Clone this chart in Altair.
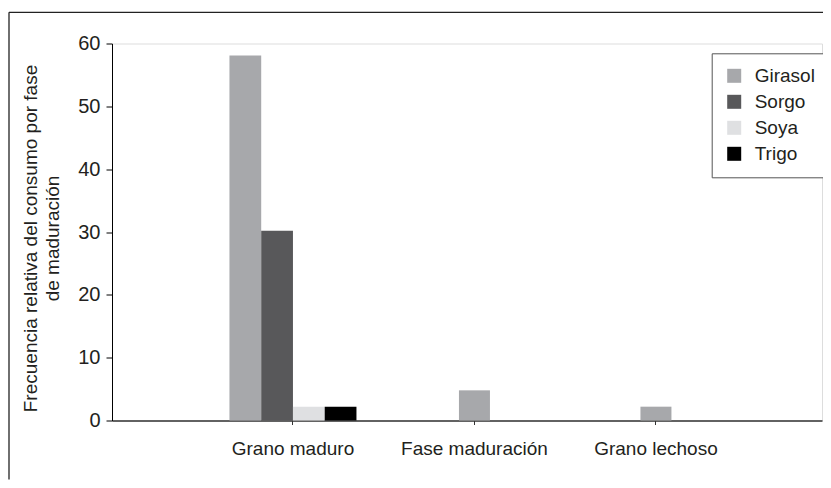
import altair as alt
import pandas as pd

categories = ["Grano maduro", "Fase maduración", "Grano lechoso"]
series = ["Girasol", "Sorgo", "Soya", "Trigo"]
girasol = [58.1, 4.8, 2.2]
sorgo = [30.2, 0.0, 0.0]
soya = [2.2, 0.0, 0.0]
trigo = [2.2, 0.0, 0.0]
colors = ["#a7a8ab", "#58585a", "#dfe0e2", "#000000"]
y_ticks = [0, 10, 20, 30, 40, 50, 60]

rows = []
for s, vals in zip(series, [girasol, sorgo, soya, trigo]):
    for c, v in zip(categories, vals):
        rows.append({"fase": c, "cultivo": s, "valor": v})
df = pd.DataFrame(rows)

FONT = "Liberation Sans"
W, H = 710, 377
PL, PT, PR, PB = 104, 35.5, 1, 59

x_scale = alt.Scale(domain=categories, paddingInner=0, paddingOuter=0.456, align=0.545)
color_scale = alt.Scale(domain=series, range=colors)
y_scale = alt.Scale(domain=[0, 60], nice=False)

x_axis = alt.Axis(
    title=None, labelAngle=0, labelFontSize=19, labelFont=FONT, labelColor="#231f20",
    domainColor="#333333", domainWidth=1.3, tickColor="#333333", tickSize=4,
    labelPadding=15, grid=False,
)
y_axis = alt.Axis(
    title=["Frecuencia relativa del consumo por fase", "de maduración"],
    values=y_ticks, grid=False, labelFontSize=20, labelFont=FONT, labelColor="#231f20",
    domainColor="#000000", tickColor="#000000", tickSize=6, labelPadding=6,
    titleFont=FONT, titleFontSize=19, titleFontWeight="normal", titleColor="#231f20",
    titleX=-76, titleY=194.5, titleBaseline="alphabetic", titleLineHeight=22,
    titleAlign="center", titleAngle=270,
)

legend = alt.Legend(
    title=None, orient="none", legendX=599.7, legendY=9.8, symbolType="square",
    symbolSize=196, symbolStrokeWidth=0, labelFontSize=19, labelFont=FONT,
    labelColor="#231f20", labelOffset=11, padding=13, rowPadding=6,
    strokeColor="#555555", fillColor="#ffffff",
)

base = alt.Chart(df)

grouped = base.transform_filter(
    alt.datum.fase == categories[0]
).mark_bar().encode(
    x=alt.X("fase:N", scale=x_scale, axis=x_axis, sort=categories),
    xOffset=alt.XOffset("cultivo:N", scale=alt.Scale(domain=series, paddingInner=0, paddingOuter=0.858), sort=series),
    y=alt.Y("valor:Q", scale=y_scale, axis=y_axis),
    color=alt.Color("cultivo:N", scale=color_scale, legend=legend, sort=series),
)

single = base.transform_filter(
    (alt.datum.fase != categories[0]) & (alt.datum.valor > 0)
).mark_bar(size=31).encode(
    x=alt.X("fase:N", scale=x_scale, axis=x_axis, sort=categories),
    y=alt.Y("valor:Q", scale=y_scale, axis=y_axis),
    color=alt.Color("cultivo:N", scale=color_scale, legend=legend, sort=series),
)

frame_df = pd.DataFrame({"k": [0]})
frame_top = alt.Chart(frame_df).mark_rule(stroke="#222222", strokeWidth=1.3).encode(
    x=alt.value(-103), x2=alt.value(W + PR), y=alt.value(-31.2)
)
frame_left = alt.Chart(frame_df).mark_rule(stroke="#222222", strokeWidth=1.3).encode(
    x=alt.value(-103), y=alt.value(-31.2), y2=alt.value(H + PB)
)

chart = alt.layer(frame_top, frame_left, grouped, single).properties(
    width=W, height=H,
    autosize=alt.AutoSizeParams(type="none"),
    padding={"left": PL, "top": PT, "right": PR, "bottom": PB},
).configure_view(stroke=None).configure(background="#ffffff")

chart.save("out.html", embed_options={"renderer": "svg", "actions": False})
